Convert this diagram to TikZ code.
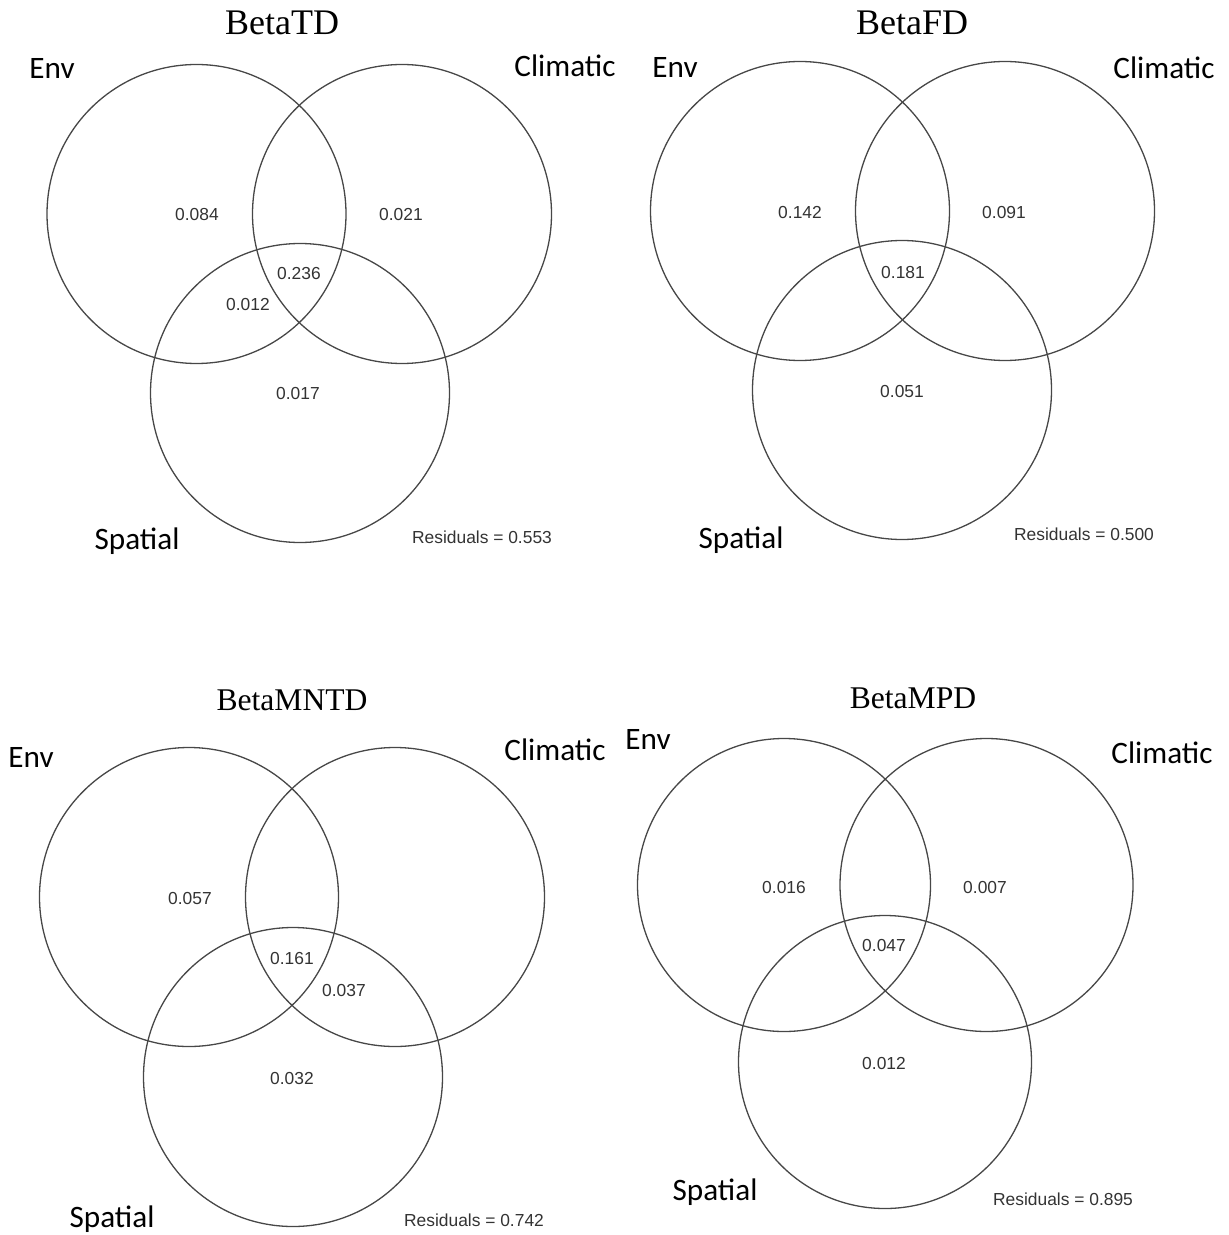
\documentclass[tikz,border=0pt]{standalone}
\usepackage{fontspec}
\setmainfont{Liberation Serif}
\newfontfamily\setlabelfont{Carlito}
\newfontfamily\setnumfont{Liberation Sans}
\usepackage{tikz}

\begin{document}
\begin{tikzpicture}[x=0.5pt, y=-0.5pt]
    % Define styles
    \tikzstyle{venn} = [circle, draw=black!72, line width=0.65pt, inner sep=0pt, outer sep=0pt, minimum size=149.5pt]
    \tikzstyle{smallvenn} = [venn, minimum size=146.5pt]
    \tikzstyle{heading} = [inner sep=0pt, font=\fontsize{18}{20}\selectfont]
    \tikzstyle{smallheading} = [heading, font=\fontsize{15.8}{18}\selectfont]
    \tikzstyle{setname} = [inner sep=0pt, font=\setlabelfont\fontsize{15.6}{18}\selectfont]
    \tikzstyle{share} = [inner sep=0pt, text=black!80, font=\setnumfont\fontsize{8.7}{10}\selectfont]

    \useasboundingbox (0,0) rectangle (1228,1235);

    % BetaTD
    \node[heading] (td-title) at (282,23) {BetaTD};
    \node[venn] (td-env) at (196.5,214) {};
    \node[venn] (td-clim) at (402,214) {};
    \node[venn] (td-spat) at (300,393) {};
    \node[setname] (td-envname) at (52,68) {Env};
    \node[setname] (td-climname) at (565,66) {Climatic};
    \node[setname] (td-spatname) at (137,541) {Spatial};
    \node[share] (td-a) at (197,215) {0.084};
    \node[share] (td-b) at (401,215) {0.021};
    \node[share] (td-abc) at (299,274) {0.236};
    \node[share] (td-ac) at (248,305) {0.012};
    \node[share] (td-c) at (298,394) {0.017};
    \node[share] (td-res) at (482,537) {Residuals = 0.553};

    % BetaFD
    \node[heading] (fd-title) at (912,23) {BetaFD};
    \node[venn] (fd-env) at (800,211) {};
    \node[venn] (fd-clim) at (1005,211) {};
    \node[venn] (fd-spat) at (902,390) {};
    \node[setname] (fd-envname) at (675,67) {Env};
    \node[setname] (fd-climname) at (1164,68) {Climatic};
    \node[setname] (fd-spatname) at (741,540) {Spatial};
    \node[share] (fd-a) at (800,213) {0.142};
    \node[share] (fd-b) at (1004,213) {0.091};
    \node[share] (fd-abc) at (903,273) {0.181};
    \node[share] (fd-c) at (902,392) {0.051};
    \node[share] (fd-res) at (1084,534) {Residuals = 0.500};

    % BetaMNTD
    \node[smallheading] (mntd-title) at (292,700) {BetaMNTD};
    \node[venn] (mntd-env) at (189,897) {};
    \node[venn] (mntd-clim) at (395,897) {};
    \node[venn] (mntd-spat) at (293,1077) {};
    \node[setname] (mntd-envname) at (31,757) {Env};
    \node[setname] (mntd-climname) at (555,750) {Climatic};
    \node[setname] (mntd-spatname) at (112,1219) {Spatial};
    \node[share] (mntd-a) at (190,899) {0.057};
    \node[share] (mntd-abc) at (292,959) {0.161};
    \node[share] (mntd-bc) at (344,990) {0.037};
    \node[share] (mntd-c) at (292,1078) {0.032};
    \node[share] (mntd-res) at (474,1220) {Residuals = 0.742};

    % BetaMPD
    \node[smallheading] (mpd-title) at (913,698) {BetaMPD};
    \node[smallvenn] (mpd-env) at (784,885) {};
    \node[smallvenn] (mpd-clim) at (986.5,885) {};
    \node[smallvenn] (mpd-spat) at (885,1062) {};
    \node[setname] (mpd-envname) at (648,739) {Env};
    \node[setname] (mpd-climname) at (1162,753) {Climatic};
    \node[setname] (mpd-spatname) at (715,1192) {Spatial};
    \node[share] (mpd-a) at (784,887) {0.016};
    \node[share] (mpd-b) at (985,887) {0.007};
    \node[share] (mpd-abc) at (884,945) {0.047};
    \node[share] (mpd-c) at (884,1063) {0.012};
    \node[share] (mpd-res) at (1063,1199) {Residuals = 0.895};
\end{tikzpicture}
\end{document}
